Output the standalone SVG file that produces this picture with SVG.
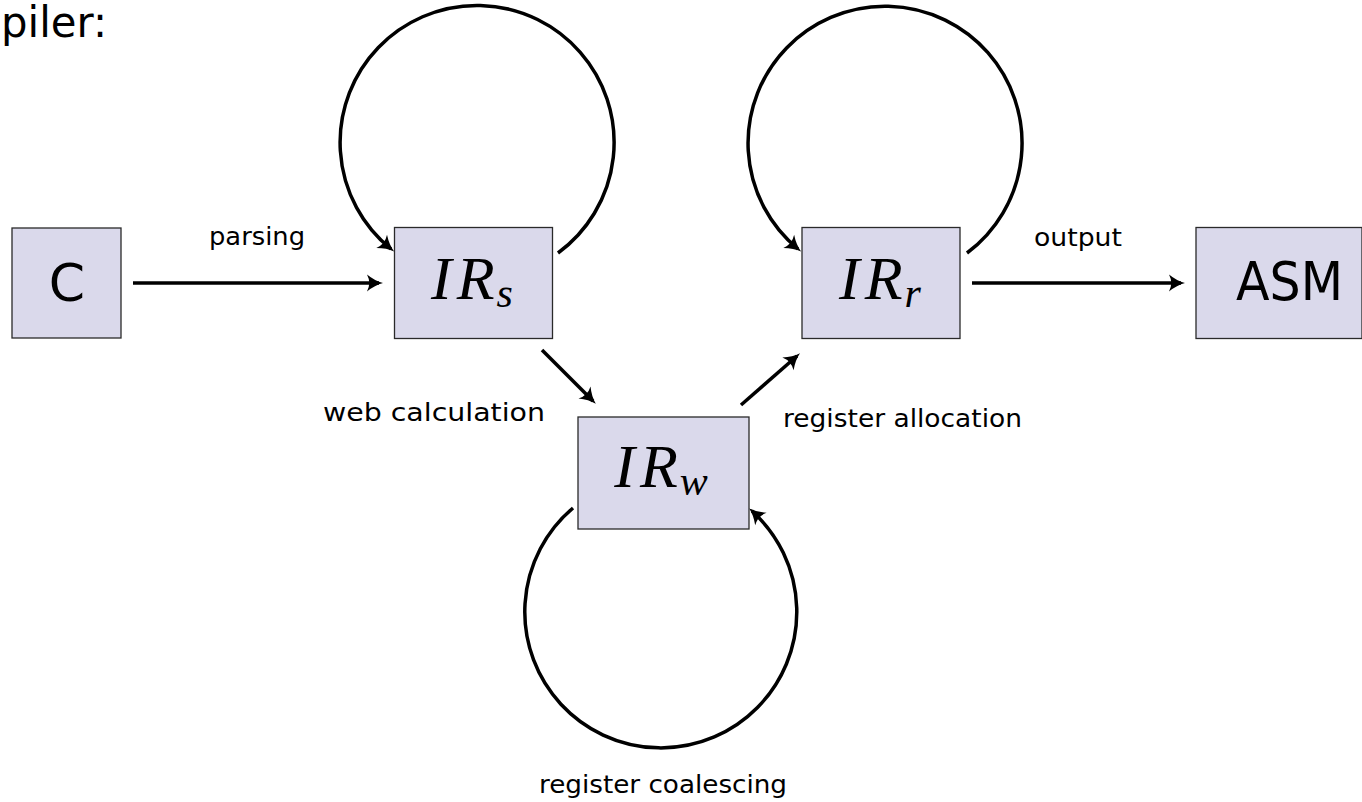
<svg xmlns="http://www.w3.org/2000/svg" width="1362" height="802" viewBox="0 0 1362 802">
<style>
.box{fill:#dad9eb;stroke:#2a2a2a;stroke-width:1.3}
.sans{font-family:"DejaVu Sans","Liberation Sans",sans-serif;fill:#000}
.math{font-family:"Liberation Serif","DejaVu Serif",serif;font-style:italic;fill:#000}
.lbl{font-size:24px}
.edge{fill:none;stroke:#000;stroke-width:3.5}
</style>
<defs>
<marker id="arr" markerUnits="userSpaceOnUse" markerWidth="24" markerHeight="24" viewBox="-2 -12 24 24" refX="12" refY="0" orient="auto">
<path d="M0,-8.5 Q8,-2 16,0 Q8,2 0,8.5 Q4.5,0 0,-8.5 Z" fill="#000"/>
</marker>
</defs>
<rect width="1362" height="802" fill="#fff"/>
<text class="sans" x="1" y="37" font-size="42" textLength="106" lengthAdjust="spacingAndGlyphs">piler:</text>

<g id="connectors">
<line class="edge" x1="133" y1="283" x2="379" y2="283" marker-end="url(#arr)"/>
<line class="edge" x1="972" y1="283" x2="1181" y2="283" marker-end="url(#arr)"/>
<line class="edge" x1="542" y1="350" x2="593" y2="401" marker-end="url(#arr)"/>
<line class="edge" x1="741" y1="405" x2="797" y2="356" marker-end="url(#arr)"/>
<path class="edge" d="M558,253 A137,137 0 1 0 391,249" marker-end="url(#arr)"/>
<path class="edge" d="M967,253 A137,137 0 1 0 798,249" marker-end="url(#arr)"/>
<path class="edge" d="M573,508 A136,136 0 1 0 752,511" marker-end="url(#arr)"/>
<text class="sans lbl" x="209" y="245" textLength="96" lengthAdjust="spacingAndGlyphs">parsing</text>
<text class="sans lbl" x="1034" y="246" textLength="88" lengthAdjust="spacingAndGlyphs">output</text>
<text class="sans lbl" x="323" y="421" textLength="222" lengthAdjust="spacingAndGlyphs">web calculation</text>
<text class="sans lbl" x="783" y="427" textLength="239" lengthAdjust="spacingAndGlyphs">register allocation</text>
<text class="sans lbl" x="539" y="793" textLength="248" lengthAdjust="spacingAndGlyphs">register coalescing</text>
</g>

<g id="node-C">
<rect class="box" x="12" y="228" width="109" height="110"/>
<text class="sans" x="67" y="301" font-size="52" text-anchor="middle">C</text>
</g>
<g id="node-IRs">
<rect class="box" x="394.5" y="227.5" width="158" height="111"/>
<text class="math" x="472" y="299" font-size="62" text-anchor="middle">I<tspan dx="5">R</tspan><tspan dx="2" dy="8" font-size="42">s</tspan></text>
</g>
<g id="node-IRr">
<rect class="box" x="802" y="227.5" width="158" height="111"/>
<text class="math" x="880" y="299" font-size="62" text-anchor="middle">I<tspan dx="5">R</tspan><tspan dx="2" dy="8" font-size="42">r</tspan></text>
</g>
<g id="node-IRw">
<rect class="box" x="578" y="417" width="171" height="112"/>
<text class="math" x="661" y="487" font-size="62" text-anchor="middle">I<tspan dx="5">R</tspan><tspan dx="2" dy="8" font-size="42">w</tspan></text>
</g>
<g id="node-ASM">
<rect class="box" x="1196" y="227.5" width="166" height="111"/>
<text class="sans" x="1236" y="300" font-size="54" textLength="107" lengthAdjust="spacingAndGlyphs">ASM</text>
</g>
</svg>
